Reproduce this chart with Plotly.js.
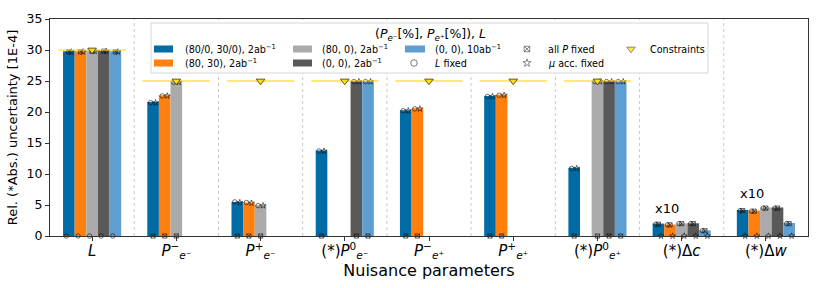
<!DOCTYPE html>
<html><head><meta charset="utf-8">
<script src="https://cdn.plot.ly/plotly-3.0.1.min.js"></script>
<style>html,body{margin:0;padding:0;background:#fff}#chart{width:822px;height:288px}</style>
</head><body><div id="chart"></div>
<script>
// ---------- data ----------
const categories = ['L','Pem_m','Pem_p','P0em','Pep_m','Pep_p','P0ep','dc','dw'];
const tickLabels = [
  '<i>L</i>',
  '<i>P</i><sup>−</sup><sub><i>e</i>⁻</sub>',
  '<i>P</i><sup>+</sup><sub><i>e</i>⁻</sub>',
  '(*)<i>P</i><sup>0</sup><sub><i>e</i>⁻</sub>',
  '<i>P</i><sup>−</sup><sub><i>e</i>⁺</sub>',
  '<i>P</i><sup>+</sup><sub><i>e</i>⁺</sub>',
  '(*)<i>P</i><sup>0</sup><sub><i>e</i>⁺</sub>',
  '(*)Δ<i>c</i>',
  '(*)Δ<i>w</i>'
];
const seriesNames = [
  '(80/0, 30/0), 2ab<sup>−1</sup>',
  '(80, 30), 2ab<sup>−1</sup>',
  '(80, 0), 2ab<sup>−1</sup>',
  '(0, 0), 2ab<sup>−1</sup>',
  '(0, 0), 10ab<sup>−1</sup>'
];
// bar values
const valSplit   = [29.8, 21.6, 5.5, 13.8, 20.3, 22.6, 11.0, 2.0, 4.2];
const val8030    = [29.8, 22.7, 5.4, null, 20.6, 22.8, null, 1.85, 4.1];
const val800     = [29.9, 24.9, 5.0, null, null, null, 25.0, 2.05, 4.6];
const val00      = [29.9, null, null, 25.0, null, null, 25.0, 2.05, 4.6];
const val00_10   = [29.8, null, null, 25.0, null, null, 25.0, 0.9, 2.1];
// "L fixed" results
const lFixSplit  = [0, 21.5, 5.5, 13.7, 20.2, 22.5, 10.9, 1.9, 4.1];
const lFix8030   = [0, 22.6, 5.4, null, 20.5, 22.7, null, 1.8, 4.0];
const lFix800    = [0, 24.8, 4.9, null, null, null, 24.9, 2.0, 4.5];
const lFix00     = [0, null, null, 24.9, null, null, 24.9, 2.0, 4.5];
const lFix00_10  = [0, null, null, 24.9, null, null, 24.9, 0.85, 2.0];
// "all P fixed" results
const pFixSplit  = [29.7, 0, 0, 0, 0, 0, 0, 1.9, 4.1];
const pFix8030   = [29.7, 0, 0, null, 0, 0, null, 1.8, 4.0];
const pFix800    = [29.8, 0, 0, null, null, null, 0, 2.0, 4.5];
const pFix00     = [29.8, null, null, 0, null, null, 0, 2.0, 4.5];
const pFix00_10  = [29.7, null, null, 0, null, null, 0, 0.85, 2.0];
// "mu acc. fixed" results
const muFixSplit = [29.7, 21.5, 5.4, 13.7, 20.2, 22.5, 10.9, 0, 0];
const muFix8030  = [29.7, 22.6, 5.3, null, 20.5, 22.7, null, 0, 0];
const muFix800   = [29.8, 24.8, 4.9, null, null, null, 24.9, 0, 0];
const muFix00    = [29.8, null, null, 24.9, null, null, 24.9, 0, 0];
const muFix00_10 = [29.7, null, null, 24.9, null, null, 24.9, 0, 0];
// constraints
const constraintVals = [30, 25, 25, 25, 25, 25, 25, null, null];
const legendTitle = '(<i>P</i><sub><i>e</i>⁻</sub>[%], <i>P</i><sub><i>e</i>⁺</sub>[%]), <i>L</i>';

// ---------- styling ----------
const colors = ['#006BA4','#FF800E','#ABABAB','#595959','#5F9ED1'];
const FONT = 'DejaVu Sans, Verdana, sans-serif';
const bars = [valSplit, val8030, val800, val00, val00_10];
const lFix = [lFixSplit, lFix8030, lFix800, lFix00, lFix00_10];
const pFix = [pFixSplit, pFix8030, pFix800, pFix00, pFix00_10];
const muFix = [muFixSplit, muFix8030, muFix800, muFix00, muFix00_10];
const bw = 0.138, mOff = 0.03;
const idx = categories.map((c,i)=>i);

const traces = [];
bars.forEach((vals,k)=>{
  const xs = idx.map(i=>i+(k-2)*bw);
  traces.push({type:'bar', x:xs, y:vals, width:bw, marker:{color:colors[k], line:{width:0}},
    name:seriesNames[k], showlegend:false, hoverinfo:'skip'});
});
function markerTrace(arrs, off, symbol, size){
  const x=[], y=[];
  arrs.forEach((vals,k)=>{ vals.forEach((v,i)=>{ if(v!==null && bars[k][i]!==null){ x.push(i+(k-2)*bw+off); y.push(v);} }); });
  return {type:'scatter', mode:'markers', x, y, showlegend:false, hoverinfo:'skip', cliponaxis:false,
    marker:{symbol, size, color:'#111', line:{width:0.6, color:'#111'}}};
}
traces.push(markerTrace(lFix, -mOff, 'circle-open', 4.5));
traces.push(markerTrace(pFix, 0, 'square-x-open', 4.2));
traces.push(markerTrace(muFix, mOff, 'star-open', 4.5));
// constraint lines + triangles
const cx=[], cy=[], tx=[], ty=[];
constraintVals.forEach((v,i)=>{ if(v!==null){ cx.push(i-0.4, i+0.4, null); cy.push(v, v, null); tx.push(i); ty.push(v);} });
traces.push({type:'scatter', mode:'lines', x:cx, y:cy, line:{color:'rgba(255,215,0,0.55)', width:2}, showlegend:false, hoverinfo:'skip'});
traces.push({type:'scatter', mode:'markers', x:tx, y:ty, marker:{symbol:'triangle-down', size:7.5, color:'#FFE000', line:{color:'#333', width:0.8}}, showlegend:false, hoverinfo:'skip', cliponaxis:false});

// legend keys drawn in an overlay pixel-space axis
const legMarkers = {type:'scatter', mode:'markers', xaxis:'x2', yaxis:'y2', showlegend:false, hoverinfo:'skip', cliponaxis:false,
  x:[414, 527, 527, 631], y:[63, 49, 63, 49],
  marker:{symbol:['circle-open','square-x-open','star-open','triangle-down'], size:[6.5,5.5,6,7.5],
    color:['#111','#111','#111','#FFE000'], line:{width:[0.8,0.7,0.7,0.8], color:'#333'}}};
traces.push(legMarkers);

const shapes = [];
for(let i=0;i<categories.length-1;i++){
  shapes.push({type:'line', xref:'x', yref:'paper', x0:i+0.5, x1:i+0.5, y0:0, y1:1, layer:'below',
    line:{color:'#bbbbbb', width:0.8, dash:'dot'}});
}
shapes.push({type:'rect', xref:'x2', yref:'y2', x0:151, x1:708, y0:23, y1:73, layer:'below',
  fillcolor:'rgba(255,255,255,0.95)', line:{color:'#d6d6d6', width:1}});
const swatchX = [[154,173,49],[154,173,63],[293,312,49],[293,312,63],[405,425,49]];
swatchX.forEach((s,k)=>shapes.push({type:'rect', xref:'x2', yref:'y2', x0:s[0], x1:s[1], y0:s[2]-3.5, y1:s[2]+3.5,
  layer:'below', fillcolor:colors[k], line:{width:0}}));

const lf = {family:FONT, size:9.6, color:'#000'};
const ann = [];
const legTexts = [[183,49,seriesNames[0]],[183,63,seriesNames[1]],[320,49,seriesNames[2]],[320,63,seriesNames[3]],
  [433,49,seriesNames[4]],[433,63,'<i>L</i> fixed'],[546,49,'all <i>P</i> fixed'],[546,63,'<i>μ</i> acc. fixed'],[648,49,'Constraints']];
legTexts.forEach(t=>ann.push({xref:'x2', yref:'y2', x:t[0], y:t[1], text:t[2], showarrow:false, xanchor:'left', yanchor:'middle', font:lf}));
ann.push({xref:'x2', yref:'y2', x:430, y:34, text:legendTitle, showarrow:false, xanchor:'center', yanchor:'middle', font:{family:FONT, size:12.5, color:'#000'}});
ann.push({xref:'x', yref:'y', x:7-0.17, y:4.4, text:'x10', showarrow:false, font:{family:FONT, size:13, color:'#000'}});
ann.push({xref:'x', yref:'y', x:8-0.17, y:6.8, text:'x10', showarrow:false, font:{family:FONT, size:13, color:'#000'}});

const layout = {
  width:822, height:288, margin:{l:50, r:14, t:19, b:52},
  paper_bgcolor:'#fff', plot_bgcolor:'#fff', barmode:'overlay', showlegend:false,
  font:{family:FONT, color:'#000'},
  xaxis:{range:[-0.5,8.5], tickvals:idx, ticktext:tickLabels, ticks:'outside', ticklen:4, tickcolor:'#333',
    showline:true, mirror:true, linecolor:'#333', linewidth:1, showgrid:false, zeroline:false, ticklabelstandoff:-3,
    tickfont:{family:FONT, size:15}, title:{text:'Nuisance parameters', font:{family:FONT, size:16}, standoff:0}},
  yaxis:{range:[0,35], dtick:5, ticks:'outside', ticklen:4, tickcolor:'#333',
    showline:true, mirror:true, linecolor:'#333', linewidth:1, showgrid:false, zeroline:false,
    tickfont:{family:FONT, size:12.5}, title:{text:'Rel. (*Abs.) uncertainty [1E-4]', font:{family:FONT, size:13}, standoff:6}},
  xaxis2:{overlaying:'x', range:[50,808], visible:false, fixedrange:true},
  yaxis2:{overlaying:'y', range:[236,19], visible:false, fixedrange:true},
  shapes, annotations:ann
};
Plotly.newPlot('chart', traces, layout, {displayModeBar:false, staticPlot:true});
</script></body></html>
